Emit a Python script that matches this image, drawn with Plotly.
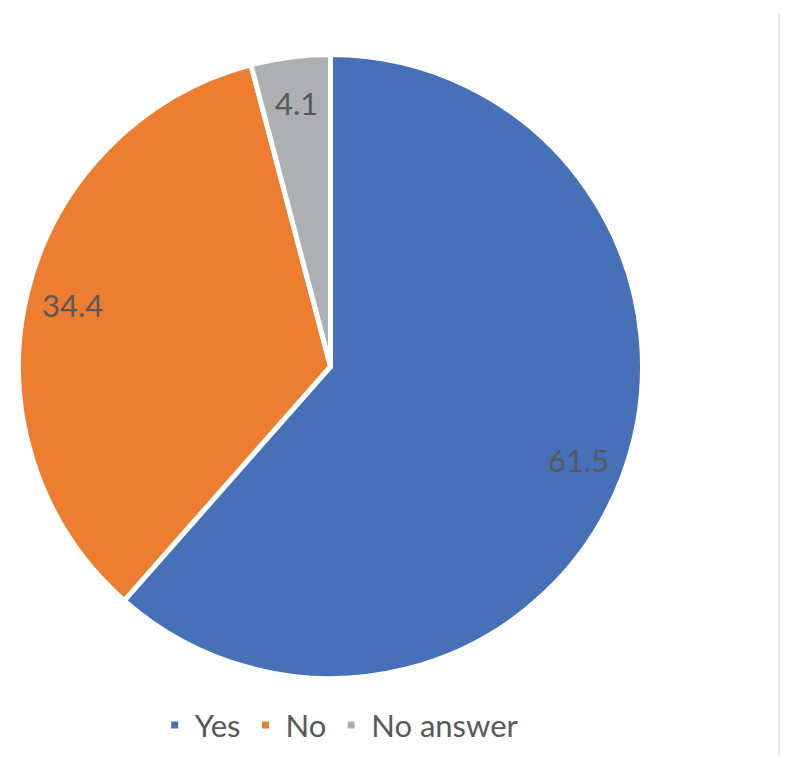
import math
import plotly.graph_objects as go

labels = ["Yes", "No", "No answer"]
values = [61.5, 34.4, 4.1]
colors = ["#4671B8", "#ED7D31", "#ADAFB2"]

W, H = 800, 779
# pie geometry in pixels
cx, cy, R = 330.5, 366.5, 312

fig = go.Figure()
fig.add_trace(
    go.Pie(
        labels=labels,
        values=values,
        sort=False,
        direction="clockwise",
        rotation=0,
        marker=dict(colors=colors, line=dict(color="white", width=5)),
        textinfo="none",
        domain=dict(x=[(cx - R) / W, (cx + R) / W], y=[1 - (cy + R) / H, 1 - (cy - R) / H]),
        hoverinfo="label+value",
    )
)

# data labels near the outer edge of each slice (like Excel "inside end")
total = sum(values)
cum = 0
for v in values:
    mid = (cum + v / 2) / total * 2 * math.pi
    cum += v
    px = cx + 0.85 * R * math.sin(mid)
    py = cy - 0.85 * R * math.cos(mid)
    fig.add_annotation(x=px / W, y=1 - py / H, xref="paper", yref="paper",
                       xanchor="center", yanchor="middle",
                       text=f"{v}", showarrow=False,
                       font=dict(family="Lato", size=31, color="#595959"))

# thin border line on the right side of the chart area
fig.add_shape(type="line", xref="paper", yref="paper",
              x0=0.974, x1=0.974, y0=0.03, y1=0.982,
              line=dict(color="#e6e6e6", width=2))

fig.update_layout(
    width=W,
    height=H,
    margin=dict(l=0, r=0, t=0, b=0),
    paper_bgcolor="white",
    plot_bgcolor="white",
    font=dict(family="Lato", color="#595959"),
    legend=dict(
        orientation="h",
        x=0.424, xanchor="center",
        y=0.069, yanchor="middle",
        font=dict(size=31, color="#595959"),
        itemwidth=30,
    ),
)

fig.write_html("out.html", config={"displayModeBar": False},
               post_script="document.body.style.margin = '0';")
